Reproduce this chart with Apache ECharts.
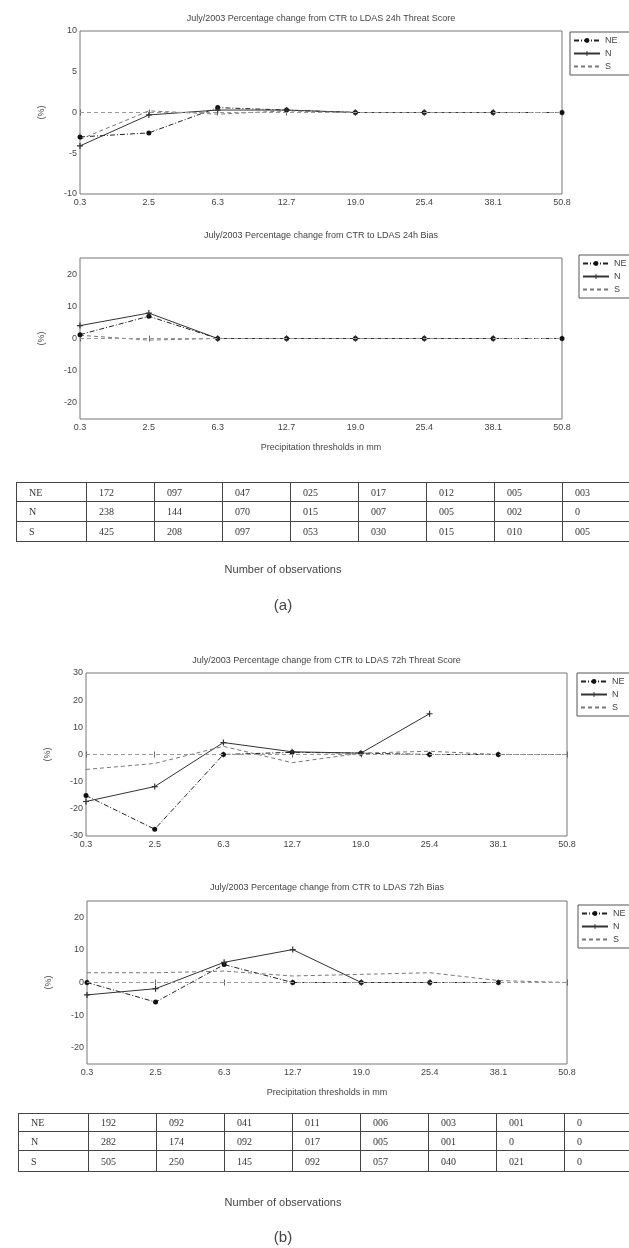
<!DOCTYPE html>
<html>
<head>
<meta charset="utf-8">
<script src="https://cdn.jsdelivr.net/npm/echarts@6/dist/echarts.min.js"></script>
<style>
  body { margin: 0; background: #fff; width: 629px; height: 1248px; overflow: hidden; position: relative; }
  #main { position: absolute; left: 0; top: 0; width: 629px; height: 1248px; }
  table.obs { position: absolute; border-collapse: collapse; table-layout: fixed;
    font-family: 'Liberation Serif', serif; font-size: 10px; color: #333; }
  table.obs td { border: 1px solid #444; padding: 0 0 0 12px; white-space: nowrap; overflow: hidden; }
  .cap { position: absolute; left: 0; width: 566px; text-align: center;
    font-family: 'Liberation Sans', sans-serif; color: #444; }
</style>
</head>
<body>
<div id="main"></div>
<table class="obs" id="tabA" style="left:16px;top:482px"></table>
<div class="cap" style="top:563px;font-size:11px">Number of observations</div>
<div class="cap" style="top:596px;font-size:15px">(a)</div>
<table class="obs" id="tabB" style="left:18px;top:1113px"></table>
<div class="cap" style="top:1196px;font-size:11px">Number of observations</div>
<div class="cap" style="top:1228px;font-size:15px">(b)</div>
<script>
// precipitation thresholds (mm)
const thresholds = ['0.3', '2.5', '6.3', '12.7', '19.0', '25.4', '38.1', '50.8'];

// 24h threat score, % change
const ts24NE = [-3.0, -2.5, 0.6, 0.3, 0, 0, 0, 0];
const ts24N = [-4.1, -0.3, 0.3, 0.3, 0, 0, 0, null];
const ts24S = [-3.3, 0.2, -0.2, 0.2, 0, 0, 0, 0];

// 24h bias, % change
const bias24NE = [1.2, 6.9, 0, 0, 0, 0, 0, 0];
const bias24N = [4.0, 7.9, 0, 0, 0, 0, 0, null];
const bias24S = [1.0, -0.5, 0, 0, 0, 0, 0, 0];

// 72h threat score, % change
const ts72NE = [-15.1, -27.5, 0, 0.8, 0.5, 0, 0, null];
const ts72N = [-17.3, -11.8, 4.4, 1.0, 0.5, 15.0, null, null];
const ts72S = [-5.5, -3.3, 3.0, -3.0, 0.5, 1.2, 0, 0];

// 72h bias, % change
const bias72NE = [0, -6.0, 5.5, 0, 0, 0, 0, null];
const bias72N = [-3.8, -1.9, 6.2, 10.1, 0, 0, null, null];
const bias72S = [3.0, 3.0, 3.5, 2.0, 2.5, 3.0, 0.6, 0];

// y tick labels
const tsTicks24 = [-10, -5, 0, 5, 10];
const biasTicks = [-20, -10, 0, 10, 20];
const tsTicks72 = [-30, -20, -10, 0, 10, 20, 30];

// number of observations
const regions = ['NE', 'N', 'S'];
const obs24NE = ['172', '097', '047', '025', '017', '012', '005', '003'];
const obs24N = ['238', '144', '070', '015', '007', '005', '002', '0'];
const obs24S = ['425', '208', '097', '053', '030', '015', '010', '005'];
const obs72NE = ['192', '092', '041', '011', '006', '003', '001', '0'];
const obs72N = ['282', '174', '092', '017', '005', '001', '0', '0'];
const obs72S = ['505', '250', '145', '092', '057', '040', '021', '0'];

const FONT = 'Liberation Sans';
const TXT = '#444';

const panels = [
  { title: 'July/2003 Percentage change from CTR to LDAS 24h Threat Score',
    ne: ts24NE, n: ts24N, s: ts24S, min: -10, max: 10, ticks: tsTicks24,
    grid: { left: 80, top: 31, width: 482, height: 163 }, titleTop: 14,
    legend: { left: 570, top: 32 }, xName: '' },
  { title: 'July/2003 Percentage change from CTR to LDAS 24h Bias',
    ne: bias24NE, n: bias24N, s: bias24S, min: -25, max: 25, ticks: biasTicks,
    grid: { left: 80, top: 258, width: 482, height: 161 }, titleTop: 231,
    legend: { left: 579, top: 255 }, xName: 'Precipitation thresholds in mm' },
  { title: 'July/2003 Percentage change from CTR to LDAS 72h Threat Score',
    ne: ts72NE, n: ts72N, s: ts72S, min: -30, max: 30, ticks: tsTicks72,
    grid: { left: 86, top: 673, width: 481, height: 163 }, titleTop: 656,
    legend: { left: 577, top: 673 }, xName: '' },
  { title: 'July/2003 Percentage change from CTR to LDAS 72h Bias',
    ne: bias72NE, n: bias72N, s: bias72S, min: -25, max: 25, ticks: biasTicks,
    grid: { left: 87, top: 901, width: 480, height: 163 }, titleTop: 883,
    legend: { left: 578, top: 905 }, xName: 'Precipitation thresholds in mm' },
];

const crossPath = 'path://M4,0h2v4h4v2h-4v4h-2v-4h-4v-2h4z';

const option = {
  backgroundColor: '#fff',
  animation: false,
  textStyle: { fontFamily: FONT },
  title: [], legend: [], grid: [], xAxis: [], yAxis: [], series: [],
};

panels.forEach((p, i) => {
  option.grid.push(Object.assign({ show: true, borderColor: '#777', borderWidth: 1, containLabel: false }, p.grid));
  option.title.push({
    text: p.title, left: p.grid.left + p.grid.width / 2, top: p.titleTop, textAlign: 'center', padding: 0,
    textStyle: { fontSize: 9, fontWeight: 'normal', color: TXT, fontFamily: FONT },
  });
  option.legend.push({
    left: p.legend.left, top: p.legend.top, orient: 'vertical',
    data: ['NE', 'N', { name: 'S', itemStyle: { opacity: 0 } }],
    itemWidth: 26, itemHeight: 6, itemGap: 4, padding: [4, 14, 4, 3],
    borderColor: '#555', borderWidth: 1, backgroundColor: '#fff',
    textStyle: { fontSize: 9, color: TXT, fontFamily: FONT },
  });
  const xBase = {
    type: 'category', data: thresholds, boundaryGap: false, gridIndex: i,
    axisLine: { show: false }, splitLine: { show: false },
    axisTick: { inside: true, length: 3, lineStyle: { color: '#666' } },
  };
  option.xAxis.push(Object.assign({}, xBase, {
    position: 'bottom',
    axisLabel: { fontSize: 9, color: TXT, margin: 4, fontFamily: FONT },
    name: p.xName, nameLocation: 'middle', nameGap: 24,
    nameTextStyle: { fontSize: 9, color: TXT, fontFamily: FONT },
  }));
  option.xAxis.push(Object.assign({}, xBase, { position: 'top', axisLabel: { show: false } }));
  const yBase = {
    type: 'value', min: p.min, max: p.max, gridIndex: i,
    axisLine: { show: false }, splitLine: { show: false },
    axisTick: { inside: true, length: 3, customValues: p.ticks, lineStyle: { color: '#666' } },
  };
  option.yAxis.push(Object.assign({}, yBase, {
    position: 'left',
    axisLabel: { fontSize: 9, color: TXT, margin: 3, customValues: p.ticks, fontFamily: FONT },
    name: '(%)', nameLocation: 'middle', nameGap: 34, nameRotate: 90,
    nameTextStyle: { fontSize: 9, color: TXT, fontFamily: FONT },
  }));
  option.yAxis.push(Object.assign({}, yBase, { position: 'right', axisLabel: { show: false } }));

  const ax = { xAxisIndex: 2 * i, yAxisIndex: 2 * i };
  option.series.push(Object.assign({
    name: 'NE', type: 'line', data: p.ne, symbol: 'circle', symbolSize: 5, showSymbol: true,
    lineStyle: { color: '#222', width: 1, type: [5, 2, 1, 2] }, itemStyle: { color: '#111' },
  }, ax));
  option.series.push(Object.assign({
    name: 'N', type: 'line', data: p.n, symbol: crossPath, symbolSize: 6, showSymbol: true,
    lineStyle: { color: '#333', width: 1 }, itemStyle: { color: '#333' },
  }, ax));
  option.series.push(Object.assign({
    name: 'S', type: 'line', data: p.s, symbol: 'none',
    lineStyle: { color: '#777', width: 1, type: [4, 3] }, itemStyle: { color: '#777' },
    markLine: {
      silent: true, symbol: 'none', label: { show: false },
      lineStyle: { color: '#999', width: 1, type: [4, 3] }, data: [{ yAxis: 0 }],
    },
  }, ax));
});

const chart = echarts.init(document.getElementById('main'), null, { renderer: 'canvas' });
chart.setOption(option);

function fillTable(id, rows, heights) {
  const t = document.getElementById(id);
  const widths = [70, 68, 68, 68, 68, 68, 68, 68, 100];
  const cg = document.createElement('colgroup');
  widths.forEach(w => { const c = document.createElement('col'); c.style.width = w + 'px'; cg.appendChild(c); });
  t.appendChild(cg);
  t.style.width = widths.reduce((a, b) => a + b, 0) + 'px';
  rows.forEach((r, k) => {
    const tr = document.createElement('tr');
    tr.style.height = heights[k] + 'px';
    [regions[k]].concat(r).forEach(v => {
      const td = document.createElement('td');
      td.textContent = v;
      tr.appendChild(td);
    });
    t.appendChild(tr);
  });
}
fillTable('tabA', [obs24NE, obs24N, obs24S], [19, 20, 20]);
fillTable('tabB', [obs72NE, obs72N, obs72S], [18, 19, 21]);
</script>
</body>
</html>
